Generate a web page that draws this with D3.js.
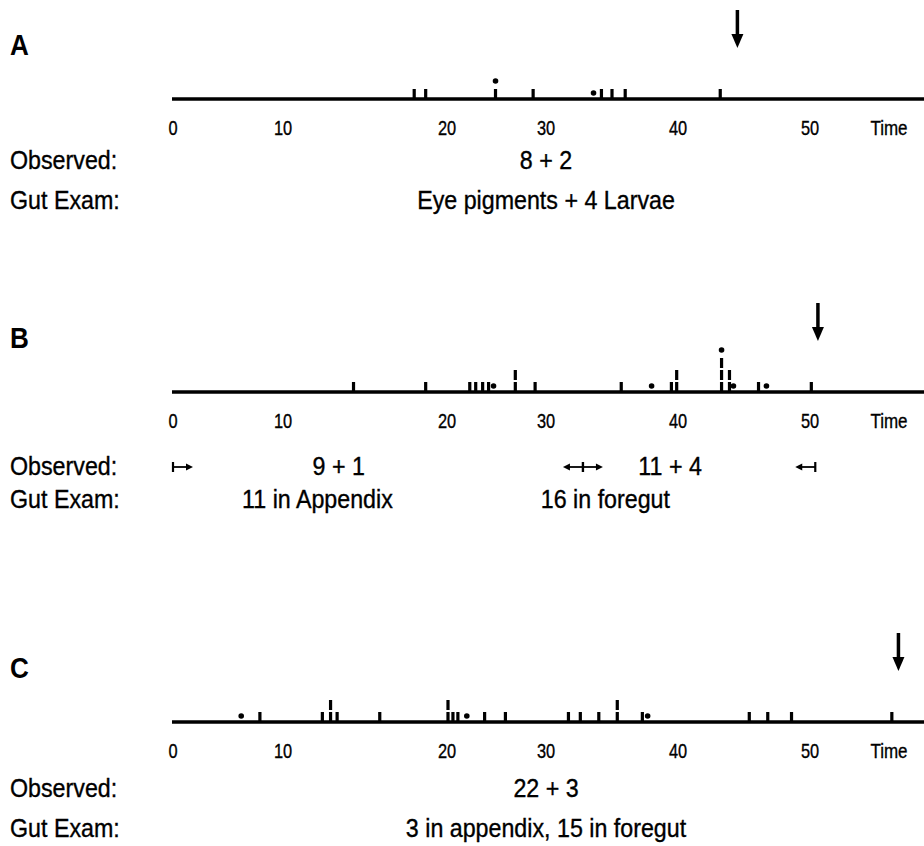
<!DOCTYPE html>
<html>
<head>
<meta charset="utf-8">
<script src="https://cdn.jsdelivr.net/npm/d3@7"></script>
<style>
  body { margin: 0; background: #fff; }
  svg text { font-family: "Liberation Sans", Arial, Helvetica, sans-serif; fill: #000; }
</style>
</head>
<body>
<svg id="chart" width="924" height="846"></svg>
<script>
// --- DONNÉES ---
const panels = ["A", "B", "C"];
const axisTicks = [0, 10, 20, 30, 40, 50];

// temps des traits (un trait par entrée, doublons = empilés)
const ticksA = [18.0, 18.7, 24.9, 28.7, 34.2, 35.0, 36.0, 43.2];
const ticksB = [14.3, 18.7, 22.3, 22.9, 23.6, 24.2, 26.9, 26.9, 28.9,
                35.7, 39.5, 39.9, 39.9, 43.3, 43.3, 43.3, 43.9, 43.9, 46.1, 50.1];
const ticksC = [7.9, 12.4, 12.9, 12.9, 13.3, 15.9, 20.1, 20.1, 20.6, 21.1, 23.8, 25.9,
                31.7, 32.6, 34.0, 35.4, 35.4, 37.3, 45.4, 46.8, 48.6, 56.2];
// temps des points
const dotsA = [24.9, 33.6];
const dotsB = [24.7, 38.0, 43.3, 44.2, 46.7];
const dotsC = [6.2, 22.0, 37.7];
// flèches (fin d'observation)
const arrowTimes = [44.5, 50.6, 56.7];

// textes
const observedA = [{ t: 30.0, label: "8 + 2" }];
const observedB = [{ t: 13.4, label: "9 + 1" }, { t: 39.4, label: "11 + 4" }];
const observedC = [{ t: 30.0, label: "22 + 3" }];
const gutA = [{ t: 30.0, label: "Eye pigments + 4 Larvae" }];
const gutB = [{ t: 12.1, label: "11 in Appendix" }, { t: 34.5, label: "16 in foregut" }];
const gutC = [{ t: 30.0, label: "3 in appendix, 15 in foregut" }];
// bornes des périodes (panneau B) : temps + sens de la flèche
const periodsB = [{ t: 0, dir: 1 }, { t: 32.8, dir: -1 }, { t: 32.8, dir: 1 }, { t: 50.4, dir: -1 }];

const data = {
  A: { ticks: ticksA, dots: dotsA, observed: observedA, gut: gutA, periods: [] },
  B: { ticks: ticksB, dots: dotsB, observed: observedB, gut: gutB, periods: periodsB },
  C: { ticks: ticksC, dots: dotsC, observed: observedC, gut: gutC, periods: [] }
};

// --- MISE EN PAGE ---
const axisY = { A: 99, B: 392, C: 722 };
const x = d3.scaleLinear()
  .domain([0, 10, 20, 30, 40, 50, 60])
  .range([173, 283, 447, 546, 678, 810, 942]);

const svg = d3.select("#chart");

// texte condensé (pas de police étroite installée)
function txt(g, px, py, str, size, anchor = "start", sx = 0.93, bold = false) {
  return g.append("text")
    .attr("transform", `translate(${px},${py}) scale(${sx},1)`)
    .attr("text-anchor", anchor)
    .style("font-size", size + "px")
    .style("font-weight", bold ? "bold" : "normal")
    .style("stroke", bold ? "none" : "#000").style("stroke-width", 0.35)
    .text(str);
}

panels.forEach((p, i) => {
  const d = data[p];
  const y0 = axisY[p];
  const g = svg.append("g");

  // lettre du panneau
  txt(g, 10, y0 - 44, p, 29, "start", 0.9, true);

  // axe
  g.append("line").attr("x1", 172).attr("x2", 924).attr("y1", y0).attr("y2", y0)
    .attr("stroke", "#000").attr("stroke-width", 3.5);

  axisTicks.forEach(t => txt(g, x(t), y0 + 36, t, 20, "middle", 0.82));
  txt(g, 889, y0 + 36, "Time", 20, "middle", 0.85);

  // empilement des traits
  const count = {};
  const tickData = d.ticks.map(t => {
    const k = count[t] || 0;
    count[t] = k + 1;
    return { t, level: k };
  });
  g.selectAll(".tick").data(tickData).join("rect")
    .attr("x", e => x(e.t) - 1.6).attr("width", 3.2)
    .attr("y", e => y0 - 10 - 12 * e.level).attr("height", 10)
    .attr("fill", "#000");

  g.selectAll(".dot").data(d.dots).join("circle")
    .attr("cx", t => x(t)).attr("cy", t => y0 - 6 - 12 * (count[t] || 0))
    .attr("r", 2.8).attr("fill", "#000");

  // flèche vers le bas
  const ax = x(arrowTimes[i]);
  g.append("line").attr("x1", ax).attr("x2", ax).attr("y1", y0 - 89).attr("y2", y0 - 63)
    .attr("stroke", "#000").attr("stroke-width", 3.5);
  g.append("path")
    .attr("d", `M${ax - 6},${y0 - 65} L${ax + 6},${y0 - 65} L${ax},${y0 - 51} Z`)
    .attr("fill", "#000");

  // textes
  const obsY = y0 + 70 + (p === "B" ? 13 : 0) + (p === "C" ? 5 : 0);
  const gutY = obsY + 40 - (p === "B" ? 7 : 0);
  txt(g, 10, obsY, "Observed:", 25);
  txt(g, 10, gutY, "Gut Exam:", 25);
  d.observed.forEach(o => txt(g, x(o.t), obsY, o.label, 25, "middle"));
  d.gut.forEach(o => txt(g, x(o.t), gutY, o.label, 25, "middle"));

  // bornes de période
  const py = obsY - 8;
  d.periods.forEach(q => {
    const px = x(q.t);
    const ex = px + q.dir * 20;
    g.append("line").attr("x1", px).attr("x2", px).attr("y1", py - 5).attr("y2", py + 5)
      .attr("stroke", "#000").attr("stroke-width", 2.2);
    g.append("line").attr("x1", px).attr("x2", ex - q.dir * 5).attr("y1", py).attr("y2", py)
      .attr("stroke", "#000").attr("stroke-width", 1.8);
    g.append("path")
      .attr("d", `M${ex},${py} L${ex - q.dir * 7},${py - 3.5} L${ex - q.dir * 7},${py + 3.5} Z`)
      .attr("fill", "#000");
  });
});
</script>
</body>
</html>
